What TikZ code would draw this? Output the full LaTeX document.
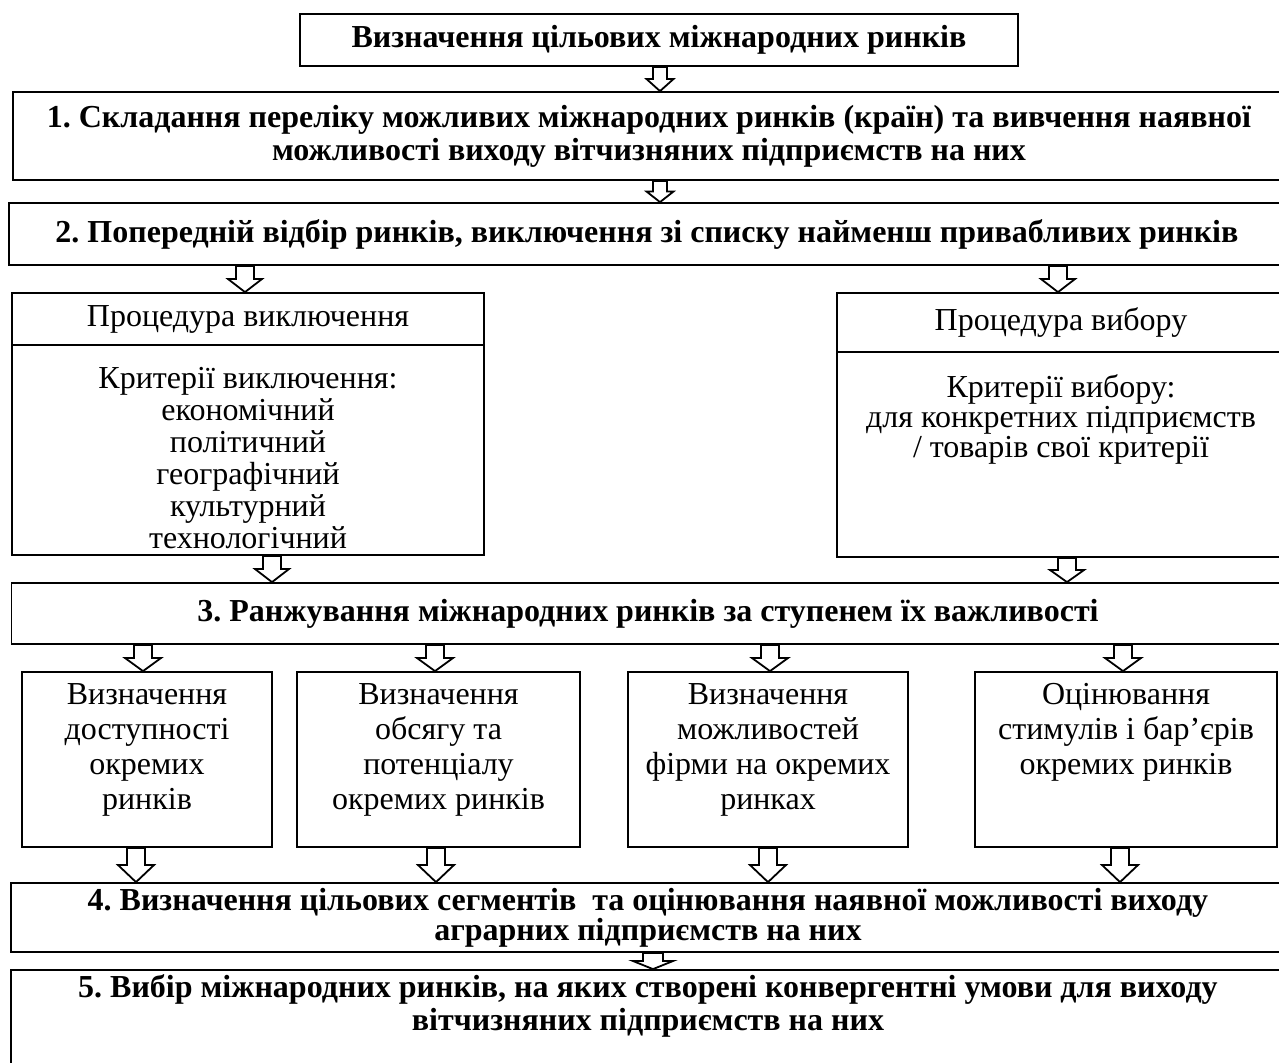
\documentclass[tikz,border=0pt]{standalone}
\usepackage{fontspec}
\setmainfont{Liberation Serif}
\usetikzlibrary{calc}
\frenchspacing

\newcommand{\blockarrow}[5]{%
  \draw[arrowline] let \p1=(#3,0), \p2=(#4.south), \p3=(#5.north) in
    (\x1-#1,\y2) -- (\x1-#1,{0.5*(\y2+\y3)}) -- (\x1-#2,{0.5*(\y2+\y3)}) -- (\x1,\y3)
    -- (\x1+#2,{0.5*(\y2+\y3)}) -- (\x1+#1,{0.5*(\y2+\y3)}) -- (\x1+#1,\y2) -- cycle;}

\begin{document}
\begin{tikzpicture}[
  x=0.5pt, y=-0.5pt,
  box/.style={draw, line width=0.9pt, inner sep=0pt, align=center},
  headtext/.style={font=\fontsize{16}{16.5}\selectfont\bfseries},
  plaintext/.style={font=\fontsize{16}{17.5}\selectfont},
  toptext/.style={anchor=north, align=center, font=\fontsize{16}{17.5}\selectfont},
  arrowline/.style={line width=0.9pt, fill=white, line join=miter}
]
\useasboundingbox (0,0) rectangle (1279,1062);
\node[box, headtext, minimum width=359pt, minimum height=26pt] (goal) at (659,40) {Визначення цільових міжнародних ринків};
\node[box, headtext, minimum width=636pt, minimum height=44pt] (step1) at (649,136) {1. Складання переліку можливих міжнародних ринків (країн) та вивчення наявної\\можливості виходу вітчизняних підприємств на них};
\node[box, headtext, minimum width=638pt, minimum height=31pt] (step2) at (647,234) {2. Попередній відбір ринків, виключення зі списку найменш привабливих ринків};
\node[box, plaintext, minimum width=236pt, minimum height=26pt] (exclhead) at (248,319) {Процедура виключення};
\node[box, minimum width=236pt, minimum height=105pt,
  label={[toptext, font=\fontsize{16}{16}\selectfont, yshift=-8pt]north:{Критерії виключення:\\економічний\\політичний\\географічний\\культурний\\технологічний}}] (exclbody) at (248,450) {};
\node[box, plaintext, minimum width=224pt, minimum height=29.5pt] (selhead) at (1061,322.5) {Процедура вибору};
\node[box, minimum width=224pt, minimum height=102.5pt,
  label={[toptext, font=\fontsize{16}{15}\selectfont, yshift=-8pt]north:{Критерії вибору:\\для конкретних підприємств\\/ товарів свої критерії}}] (selbody) at (1061,454.5) {};
\node[box, headtext, minimum width=636.5pt, minimum height=30.5pt] (step3) at (648,613.5) {3. Ранжування міжнародних ринків за ступенем їх важливості};
\node[box, minimum width=125pt, minimum height=87.5pt,
  label={[toptext, yshift=-2.5pt]north:{Визначення\\доступності\\окремих\\ринків}}] (access) at (147,759.5) {};
\node[box, minimum width=141.5pt, minimum height=87.5pt,
  label={[toptext, yshift=-2.5pt]north:{Визначення\\обсягу та\\потенціалу\\окремих ринків}}] (volume) at (438.5,759.5) {};
\node[box, minimum width=140pt, minimum height=87.5pt,
  label={[toptext, yshift=-2.5pt]north:{Визначення\\можливостей\\фірми на окремих\\ринках}}] (firm) at (768,759.5) {};
\node[box, minimum width=151pt, minimum height=87.5pt,
  label={[toptext, yshift=-2.5pt]north:{Оцінювання\\стимулів і бар’єрів\\окремих ринків}}] (barrier) at (1126,759.5) {};
\node[box, headtext, font=\fontsize{16}{15}\selectfont\bfseries, minimum width=637pt, minimum height=34.5pt] (step4) at (648,917.5) {4. Визначення цільових сегментів~ та оцінювання наявної можливості виходу\\аграрних підприємств на них};
\node[box, minimum width=637pt, minimum height=55pt,
  label={[toptext, font=\fontsize{16}{16.5}\selectfont\bfseries, yshift=1pt]north:{5. Вибір міжнародних ринків, на яких створені конвергентні умови для виходу\\вітчизняних підприємств на них}}] (step5) at (648,1025) {};
\blockarrow{3.5pt}{6.75pt}{660}{goal}{step1}
\blockarrow{3.5pt}{6.75pt}{660}{step1}{step2}
\blockarrow{4.5pt}{8.5pt}{245}{step2}{exclhead}
\blockarrow{4.5pt}{8.5pt}{1058}{step2}{selhead}
\blockarrow{4.5pt}{8.5pt}{272}{exclbody}{step3}
\blockarrow{4.5pt}{8.5pt}{1067}{selbody}{step3}
\blockarrow{4.5pt}{9pt}{143}{step3}{access}
\blockarrow{4.5pt}{9pt}{435}{step3}{volume}
\blockarrow{4.5pt}{9pt}{770}{step3}{firm}
\blockarrow{4.5pt}{9pt}{1123}{step3}{barrier}
\blockarrow{4.5pt}{9pt}{136}{access}{step4}
\blockarrow{4.5pt}{9pt}{436}{volume}{step4}
\blockarrow{4.5pt}{9pt}{768}{firm}{step4}
\blockarrow{4.5pt}{9pt}{1120}{barrier}{step4}
\blockarrow{5pt}{10pt}{653}{step4}{step5}
\end{tikzpicture}
\end{document}
